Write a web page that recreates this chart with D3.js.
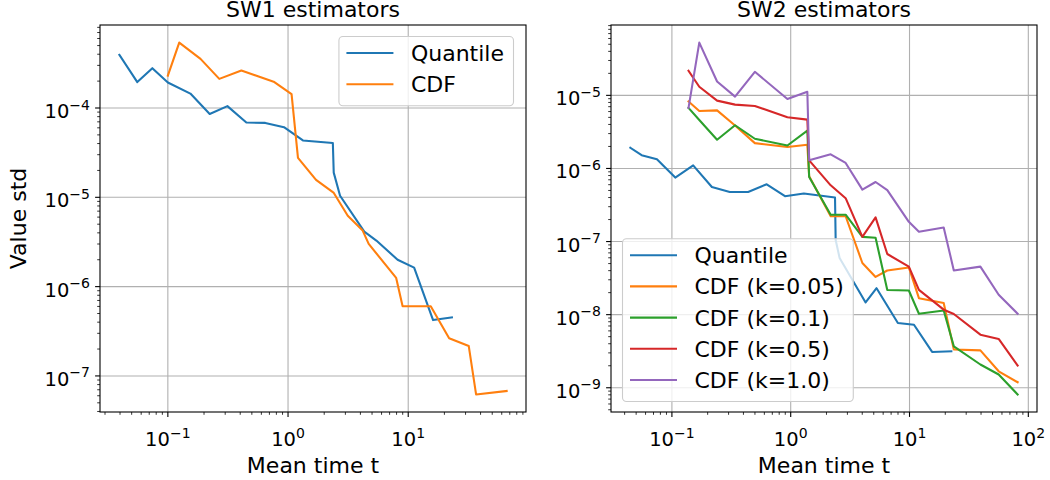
<!DOCTYPE html>
<html><head><meta charset="utf-8">
<script src="https://cdn.jsdelivr.net/npm/d3@7"></script>
<style>
body{margin:0;background:#fff}
svg{display:block}
text{font-family:"DejaVu Sans",sans-serif;fill:#000}
</style>
</head><body>
<svg id="c" width="1050" height="480"></svg>
<script>
// ---------------- DATA ----------------
const panelTitles = ["SW1 estimators", "SW2 estimators"];
const xLabel = "Mean time t";
const yLabel = "Value std";

// SW1 panel
const sw1QuantileT   = [0.0395,0.0557,0.0743,0.1,0.154,0.223,0.313,0.45,0.647,0.925,1.33,2.36,2.40,2.71,4.31,5.43,8.16,11.2,16.1,23.1];
const sw1QuantileStd = [3.93e-4,1.95e-4,2.79e-4,1.93e-4,1.45e-4,8.58e-5,1.05e-4,6.88e-5,6.81e-5,6.10e-5,4.33e-5,4.05e-5,1.89e-5,1.04e-5,4.13e-6,3.28e-6,2.00e-6,1.63e-6,4.22e-7,4.52e-7];
const sw1CdfT        = [0.1,0.1244,0.187,0.268,0.409,0.759,1.07,1.21,1.71,2.39,3.14,4.18,4.69,7.94,8.98,15.4,21.9,31.9,36.7,65.9];
const sw1CdfStd      = [2.30e-4,5.40e-4,3.55e-4,2.12e-4,2.63e-4,1.97e-4,1.43e-4,2.77e-5,1.57e-5,1.13e-5,6.22e-6,4.24e-6,3.01e-6,1.25e-6,6.04e-7,6.04e-7,2.64e-7,2.16e-7,6.21e-8,6.78e-8];
const sw1Labels      = ["Quantile", "CDF"];

// SW2 panel
const sw2QuantileT   = [0.0447,0.0556,0.0748,0.1067,0.151,0.217,0.307,0.438,0.628,0.895,1.29,2.36,2.39,2.58,4.27,5.28,7.98,10.9,15.5,22.5];
const sw2QuantileStd = [1.92e-6,1.52e-6,1.34e-6,7.50e-7,1.10e-6,5.58e-7,4.77e-7,4.77e-7,6.07e-7,4.17e-7,4.54e-7,4.00e-7,1.05e-7,5.96e-8,1.47e-8,2.30e-8,7.69e-9,7.28e-9,3.09e-9,3.15e-9];
const sw2CdfT        = [0.138,0.170,0.240,0.340,0.499,0.938,1.38,1.43,2.17,2.90,4.01,5.18,6.50,9.87,12.0,19.4,23.6,39.5,56.3,81.3];
const sw2CdfK005     = [8.26e-6,6.12e-6,6.23e-6,3.87e-6,2.22e-6,1.96e-6,2.11e-6,7.80e-7,2.22e-7,2.22e-7,5.09e-8,3.28e-8,4.02e-8,4.43e-8,1.68e-8,1.44e-8,3.33e-9,3.25e-9,1.68e-9,1.19e-9];
const sw2CdfK01      = [6.74e-6,4.6e-6,2.47e-6,3.90e-6,2.55e-6,2.06e-6,3.30e-6,7.64e-7,2.33e-7,2.33e-7,1.16e-7,1.13e-7,2.18e-8,2.14e-8,1.03e-8,1.14e-8,3.69e-9,2.08e-9,1.52e-9,8.11e-10];
const sw2CdfK05      = [2.17e-5,1.31e-5,8.47e-6,7.47e-6,7.17e-6,5.02e-6,4.66e-6,1.29e-6,5.88e-7,3.92e-7,1.16e-7,2.14e-7,6.76e-8,4.54e-8,2.18e-8,1.17e-8,1.02e-8,5.32e-9,4.65e-9,2.01e-9];
const sw2CdfK10      = [6.74e-6,5.27e-5,1.55e-5,9.60e-6,2.10e-5,8.93e-6,1.12e-5,1.29e-6,1.56e-6,1.19e-6,5.14e-7,6.53e-7,5.04e-7,1.86e-7,1.36e-7,1.56e-7,4.03e-8,4.54e-8,1.87e-8,1.03e-8];
const sw2Labels      = ["Quantile", "CDF (k=0.05)", "CDF (k=0.1)", "CDF (k=0.5)", "CDF (k=1.0)"];

const colors = ["#1f77b4", "#ff7f0e", "#2ca02c", "#d62728", "#9467bd"];

// ---------------- DRAW ----------------
const svg = d3.select("#c");
const TOP = 25, BOTTOM = 412;

function logDomain(vals) {
  const a = Math.log10(d3.min(vals)), b = Math.log10(d3.max(vals));
  const m = (b - a) * 0.05;
  return [Math.pow(10, a - m), Math.pow(10, b + m)];
}

function powLabel(sel, k) {
  sel.append("tspan").text("10");
  sel.append("tspan").attr("font-size", 14).attr("dy", -8.5)
     .text(k < 0 ? "\u2212" + (-k) : String(k));
}

function panel(o) {
  const series = o.series;
  const x = d3.scaleLog().domain(logDomain(series.flatMap(s => s.t))).range([o.left, o.right]);
  const y = d3.scaleLog().domain(logDomain(series.flatMap(s => s.v))).range([BOTTOM, TOP]);
  const g = svg.append("g");

  const majors = sc => {
    const [lo, hi] = sc.domain(); const r = [];
    for (let k = Math.ceil(Math.log10(lo)); k <= Math.floor(Math.log10(hi)); k++) r.push(k);
    return r;
  };
  const minors = sc => {
    const [lo, hi] = sc.domain(); const r = [];
    for (let k = Math.floor(Math.log10(lo)); k <= Math.ceil(Math.log10(hi)); k++)
      for (let m = 2; m <= 9; m++) { const v = m * Math.pow(10, k); if (v >= lo && v <= hi) r.push(v); }
    return r;
  };

  // grid
  majors(x).forEach(k => {
    const px = x(Math.pow(10, k));
    g.append("line").attr("x1", px).attr("x2", px).attr("y1", TOP).attr("y2", BOTTOM)
      .attr("stroke", "#b0b0b0").attr("stroke-width", 1.1);
  });
  majors(y).forEach(k => {
    const py = y(Math.pow(10, k));
    g.append("line").attr("x1", o.left).attr("x2", o.right).attr("y1", py).attr("y2", py)
      .attr("stroke", "#b0b0b0").attr("stroke-width", 1.1);
  });

  // lines
  const line = d3.line().x(d => x(d[0])).y(d => y(d[1]));
  series.forEach((s, i) => {
    const pts = s.t.map((t, j) => [t, s.v[j]]).filter(d => d[1] != null);
    g.append("path").attr("d", line(pts)).attr("fill", "none")
      .attr("stroke", s.color).attr("stroke-width", 2.08)
      .attr("stroke-linejoin", "round").attr("stroke-linecap", "square");
  });

  // spines
  g.append("rect").attr("x", o.left).attr("y", TOP).attr("width", o.right - o.left).attr("height", BOTTOM - TOP)
    .attr("fill", "none").attr("stroke", "#000").attr("stroke-width", 1.1);

  // ticks
  majors(x).forEach(k => {
    const px = x(Math.pow(10, k));
    g.append("line").attr("x1", px).attr("x2", px).attr("y1", BOTTOM).attr("y2", BOTTOM + 4.9).attr("stroke", "#000").attr("stroke-width", 1.1);
    const t = g.append("text").attr("x", px).attr("y", 446).attr("text-anchor", "middle").attr("font-size", 19.5);
    powLabel(t, k);
  });
  minors(x).forEach(v => {
    const px = x(v);
    g.append("line").attr("x1", px).attr("x2", px).attr("y1", BOTTOM).attr("y2", BOTTOM + 2.8).attr("stroke", "#000").attr("stroke-width", 0.8);
  });
  majors(y).forEach(k => {
    const py = y(Math.pow(10, k));
    g.append("line").attr("x1", o.left - 4.9).attr("x2", o.left).attr("y1", py).attr("y2", py).attr("stroke", "#000").attr("stroke-width", 1.1);
    const t = g.append("text").attr("x", o.left - 10).attr("y", py + 10).attr("text-anchor", "end").attr("font-size", 19.5);
    powLabel(t, k);
  });
  minors(y).forEach(v => {
    const py = y(v);
    g.append("line").attr("x1", o.left - 2.8).attr("x2", o.left).attr("y1", py).attr("y2", py).attr("stroke", "#000").attr("stroke-width", 0.8);
  });

  // title, labels
  g.append("text").attr("x", (o.left + o.right) / 2).attr("y", 17).attr("text-anchor", "middle").attr("font-size", 22).text(o.title);
  g.append("text").attr("x", (o.left + o.right) / 2).attr("y", 473).attr("text-anchor", "middle").attr("font-size", 22).text(xLabel);
  if (o.ylabel) {
    g.append("text").attr("transform", `translate(26,${(TOP + BOTTOM) / 2}) rotate(-90)`)
      .attr("text-anchor", "middle").attr("font-size", 22).text(o.ylabel);
  }

  // legend
  const lg = g.append("g");
  const rowH = 31.2, n = series.length;
  const boxH = 17 + (n - 1) * rowH + 21;
  const texts = [];
  series.forEach((s, i) => {
    texts.push(lg.append("text").attr("font-size", 22).attr("y", 17 + i * rowH + 8).text(s.label));
  });
  const maxW = d3.max(texts, t => t.node().getComputedTextLength());
  const boxW = 8 + 64.5 + maxW + 9;
  const bx = o.legend === "ur" ? o.legendRight - boxW : o.legendLeft;
  const by = o.legend === "ur" ? o.legendTop : o.legendBottom - boxH;
  lg.insert("rect", ":first-child").attr("x", 0.5).attr("y", 0.5).attr("width", boxW).attr("height", boxH)
    .attr("rx", 4).attr("fill", "#fff").attr("fill-opacity", 0.8).attr("stroke", "#cccccc").attr("stroke-width", 1.1);
  series.forEach((s, i) => {
    lg.append("line").attr("x1", 8).attr("x2", 8 + 47).attr("y1", 17 + i * rowH).attr("y2", 17 + i * rowH)
      .attr("stroke", s.color).attr("stroke-width", 2.08);
  });
  texts.forEach(t => t.attr("x", 8 + 64.5));
  lg.attr("transform", `translate(${bx},${by})`);
}

panel({
  left: 100, right: 526, title: panelTitles[0], ylabel: yLabel,
  legend: "ur", legendRight: 513, legendTop: 36,
  series: [
    {t: sw1QuantileT, v: sw1QuantileStd, color: colors[0], label: sw1Labels[0]},
    {t: sw1CdfT, v: sw1CdfStd, color: colors[1], label: sw1Labels[1]}
  ]
});

panel({
  left: 611, right: 1037, title: panelTitles[1],
  legend: "ll", legendLeft: 622, legendBottom: 401,
  series: [
    {t: sw2QuantileT, v: sw2QuantileStd, color: colors[0], label: sw2Labels[0]},
    {t: sw2CdfT, v: sw2CdfK005, color: colors[1], label: sw2Labels[1]},
    {t: sw2CdfT, v: sw2CdfK01, color: colors[2], label: sw2Labels[2]},
    {t: sw2CdfT, v: sw2CdfK05, color: colors[3], label: sw2Labels[3]},
    {t: sw2CdfT, v: sw2CdfK10, color: colors[4], label: sw2Labels[4]}
  ]
});
</script>
</body></html>
